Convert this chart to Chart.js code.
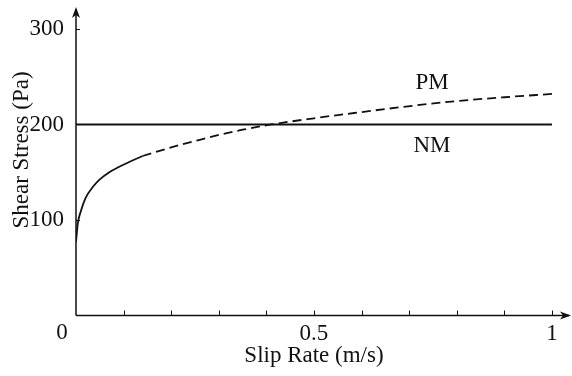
<!DOCTYPE html>
<html>
<head>
<meta charset="utf-8">
<script src="https://cdn.jsdelivr.net/npm/chart.js@4"></script>
<style>
  html, body { margin: 0; padding: 0; background: #fff; }
  #wrap { width: 572px; height: 376px; }
</style>
</head>
<body>
<div id="wrap"><canvas id="c" width="572" height="376"></canvas></div>
<script>
// PM curve, solid part (low slip rate)
const slipSolid = [0, 0.004, 0.01, 0.02, 0.036, 0.05, 0.07, 0.09, 0.115, 0.14];
const stressSolid = [77, 97, 109, 123, 135, 142.5, 150, 155.5, 161.5, 167];
// PM curve, dashed part
const slipDashed = [0.14, 0.2, 0.26, 0.3, 0.35, 0.41, 0.5, 0.6, 0.68, 0.8, 0.9, 1.0];
const stressDashed = [167, 176, 184, 189, 194.5, 200, 206.5, 213, 218, 224.5, 228.5, 232];
// NM: constant stress
const slipNM = [0, 1];
const stressNM = [200, 200];

const xTickLabels = [0.5, 1];
const xMinorTicks = [0.1, 0.2, 0.3, 0.4, 0.5, 0.6, 0.7, 0.8, 0.9, 1.0];
const yTickLabels = [100, 200, 300];

const FONT = 'Liberation Serif, Times New Roman, serif';

const toPoints = (xs, ys) => xs.map((x, i) => ({ x: x, y: ys[i] }));

// axes with arrows, inward ticks, titles and curve labels
const axesPlugin = {
  id: 'axesPlugin',
  afterDraw(chart) {
    const { ctx, chartArea } = chart;
    const xs = chart.scales.x, ys = chart.scales.y;
    const x0 = xs.getPixelForValue(0), y0 = ys.getPixelForValue(0);
    ctx.save();
    ctx.strokeStyle = '#111';
    ctx.fillStyle = '#111';
    ctx.lineWidth = 1.5;

    // axis lines
    ctx.beginPath();
    ctx.moveTo(x0, y0);
    ctx.lineTo(x0, chartArea.top + 2);
    ctx.moveTo(x0, y0);
    ctx.lineTo(chartArea.right - 2, y0);
    ctx.stroke();

    // arrow heads
    ctx.beginPath();
    ctx.moveTo(x0, chartArea.top);
    ctx.lineTo(x0 - 4, chartArea.top + 11);
    ctx.lineTo(x0, chartArea.top + 8);
    ctx.lineTo(x0 + 4, chartArea.top + 11);
    ctx.closePath();
    ctx.fill();
    ctx.beginPath();
    ctx.moveTo(chartArea.right, y0);
    ctx.lineTo(chartArea.right - 11, y0 - 4);
    ctx.lineTo(chartArea.right - 8, y0);
    ctx.lineTo(chartArea.right - 11, y0 + 4);
    ctx.closePath();
    ctx.fill();

    // ticks pointing into the plot
    ctx.lineWidth = 1;
    ctx.beginPath();
    xMinorTicks.forEach(v => {
      const px = Math.round(xs.getPixelForValue(v)) + 0.5;
      ctx.moveTo(px, y0);
      ctx.lineTo(px, y0 - 5);
    });
    yTickLabels.forEach(v => {
      const py = Math.round(ys.getPixelForValue(v)) + 0.5;
      ctx.moveTo(x0, py);
      ctx.lineTo(x0 + 4, py);
    });
    ctx.stroke();

    // origin label
    ctx.font = '23px ' + FONT;
    ctx.textAlign = 'center';
    ctx.textBaseline = 'middle';
    ctx.fillText('0', x0 - 14, y0 + 17);

    // axis titles
    ctx.fillText('Slip Rate (m/s)', xs.getPixelForValue(0.5), 356);
    ctx.save();
    ctx.translate(22, 150);
    ctx.rotate(-Math.PI / 2);
    ctx.fillText('Shear Stress (Pa)', 0, 0);
    ctx.restore();

    // curve labels
    ctx.fillText('PM', xs.getPixelForValue(0.748), ys.getPixelForValue(244));
    ctx.fillText('NM', xs.getPixelForValue(0.748), ys.getPixelForValue(178));
    ctx.restore();
  }
};

const lineStyle = {
  borderColor: '#111',
  borderWidth: 1.8,
  pointRadius: 0,
  fill: false,
  cubicInterpolationMode: 'monotone'
};

// drop the edge padding Chart.js reserves for tick labels
const noEdgePadding = (s) => {
  s.paddingTop = 0; s.paddingBottom = 0; s.paddingLeft = 0; s.paddingRight = 0;
};

new Chart(document.getElementById('c'), {
  type: 'line',
  data: {
    datasets: [
      Object.assign({ label: 'PM', data: toPoints(slipSolid, stressSolid) }, lineStyle),
      Object.assign({ label: 'PM dashed', data: toPoints(slipDashed, stressDashed), borderDash: [9, 5] }, lineStyle),
      Object.assign({ label: 'NM', data: toPoints(slipNM, stressNM) }, lineStyle)
    ]
  },
  options: {
    responsive: false,
    animation: false,
    layout: { padding: { top: 7, right: 1, left: 0, bottom: 0 } },
    plugins: { legend: { display: false }, tooltip: { enabled: false } },
    scales: {
      x: {
        type: 'linear',
        min: 0,
        max: 1.04,
        grid: { display: false },
        border: { display: false },
        afterFit: (s) => { s.height = 60.5; noEdgePadding(s); },
        afterBuildTicks: (s) => { s.ticks = xTickLabels.map(v => ({ value: v })); },
        ticks: {
          color: '#111',
          font: { family: FONT, size: 23 },
          padding: -3,
          maxRotation: 0,
          callback: (v) => String(v)
        }
      },
      y: {
        type: 'linear',
        min: 0,
        max: 323,
        grid: { display: false },
        border: { display: false },
        afterFit: (s) => { s.width = 76; noEdgePadding(s); },
        afterBuildTicks: (s) => { s.ticks = yTickLabels.map(v => ({ value: v })); },
        ticks: {
          color: '#111',
          font: { family: FONT, size: 23 },
          padding: 4,
          callback: (v) => String(v)
        }
      }
    }
  },
  plugins: [axesPlugin]
});
</script>
</body>
</html>
